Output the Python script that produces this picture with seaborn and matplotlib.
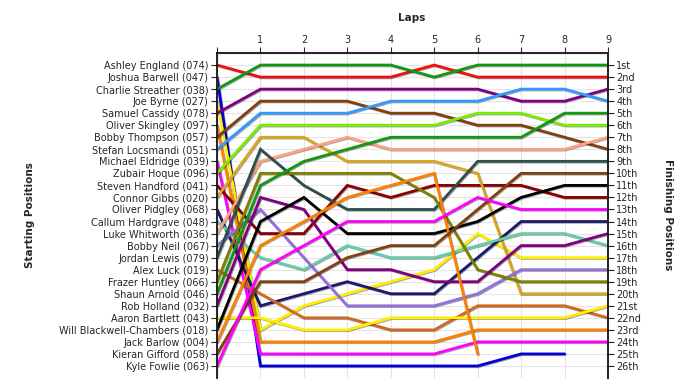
import matplotlib
matplotlib.use("Agg")
import matplotlib.pyplot as plt
import matplotlib.patheffects as pe
import seaborn as sns
import pandas as pd

# Drivers in starting order (grid position 1..26)
drivers = [
    "Ashley England (074)", "Joshua Barwell (047)", "Charlie Streather (038)",
    "Joe Byrne (027)", "Samuel Cassidy (078)", "Oliver Skingley (097)",
    "Bobby Thompson (057)", "Stefan Locsmandi (051)", "Michael Eldridge (039)",
    "Zubair Hoque (096)", "Steven Handford (041)", "Connor Gibbs (020)",
    "Oliver Pidgley (068)", "Callum Hardgrave (048)", "Luke Whitworth (036)",
    "Bobby Neil (067)", "Jordan Lewis (079)", "Alex Luck (019)",
    "Frazer Huntley (066)", "Shaun Arnold (046)", "Rob Holland (032)",
    "Aaron Bartlett (043)", "Will Blackwell-Chambers (018)", "Jack Barlow (004)",
    "Kieran Gifford (058)", "Kyle Fowlie (063)",
]

colors = [
    "#EE1111", "#0000DD", "#119911", "#FFEE00", "#800080", "#FF8000",
    "#804010", "#3399FF", "#FF00FF", "#77EE00", "#880000", "#DAA520",
    "#1A1A6E", "#66CCAA", "#FFA080", "#9370DB", "#2F4F4F", "#D2691E",
    "#808000", "#119911", "#800080", "#FFEE00", "#000000", "#FF8000",
    "#804010", "#FF00FF",
]

nan = float("nan")
# position of each driver (starting order) at the end of each lap
lap_0 = [1, 2, 3, 4, 5, 6, 7, 8, 9, 10, 11, 12, 13, 14, 15, 16, 17, 18, 19, 20, 21, 22, 23, 24, 25, 26]
lap_1 = [2, 26, 1, 23, 3, 24, 4, 5, 25, 6, 15, 7, 21, 17, 9, 13, 8, 20, 10, 11, 12, 22, 14, 16, 19, 18]
lap_2 = [2, 26, 1, 21, 3, 24, 4, 5, 25, 6, 15, 7, 20, 18, 8, 17, 11, 22, 10, 9, 13, 23, 12, 14, 19, 16]
lap_3 = [2, 26, 1, 20, 3, 24, 4, 5, 25, 6, 11, 9, 19, 16, 7, 21, 13, 22, 10, 8, 18, 23, 15, 12, 17, 14]
lap_4 = [2, 26, 1, 19, 3, 24, 5, 4, 25, 6, 12, 9, 20, 17, 8, 21, 13, 23, 10, 7, 18, 22, 15, 11, 16, 14]
lap_5 = [1, 26, 2, 18, 3, 24, 5, 4, 25, 6, 11, 9, 20, 17, 8, 21, 13, 23, 12, 7, 19, 22, 15, 10, 16, 14]
lap_6 = [2, 26, 1, 15, 3, 23, 6, 4, 24, 5, 11, 10, 17, 16, 8, 20, 9, 21, 18, 7, 19, 22, 14, 25, 13, 12]
lap_7 = [2, 25, 1, 17, 4, 23, 6, 3, 24, 5, 11, 20, 14, 15, 8, 18, 9, 21, 19, 7, 16, 22, 12, nan, 10, 13]
lap_8 = [2, 25, 1, 17, 4, 23, 7, 3, 24, 6, 12, 20, 14, 15, 8, 18, 9, 21, 19, 5, 16, 22, 11, nan, 10, 13]
lap_9 = [2, nan, 1, 17, 3, 23, 8, 4, 24, 6, 12, 20, 14, 16, 7, 18, 9, 22, 19, 5, 15, 21, 11, nan, 10, 13]

finish_labels = ["1st", "2nd", "3rd"] + [f"{i}th" for i in range(4, 21)] + \
                ["21st", "22nd", "23rd", "24th", "25th", "26th"]

laps = [lap_0, lap_1, lap_2, lap_3, lap_4, lap_5, lap_6, lap_7, lap_8, lap_9]
rows = []
for d_i, name in enumerate(drivers):
    for lap_i, lap in enumerate(laps):
        rows.append({"driver": name, "lap": lap_i, "pos": lap[d_i]})
df = pd.DataFrame(rows)

sns.set_style("white")
plt.rcParams["font.family"] = ["DejaVu Sans"]

fig = plt.figure(figsize=(7.0, 3.9), dpi=100)
fig.patch.set_facecolor("white")
ax = fig.add_axes([217 / 700, 1 - 378 / 390, (608 - 217) / 700, (378 - 53) / 390])
ax.set_facecolor("white")

palette = dict(zip(drivers, colors))
sns.lineplot(data=df, x="lap", y="pos", hue="driver", palette=palette,
             units="driver", estimator=None, sort=False, legend=False,
             linewidth=2.0, ax=ax)
for ln in ax.lines:
    ln.set_path_effects([pe.SimpleLineShadow(offset=(0.6, -0.6), alpha=0.35),
                         pe.Normal()])
    ln.set_solid_joinstyle("miter")

ax.set_xlim(0, 9)
ax.set_ylim(27, 0)
ax.xaxis.tick_top()
ax.set_xticks(range(0, 10))
ax.set_xticklabels([""] + [str(i) for i in range(1, 10)], fontsize=7)
ax.set_yticks(range(1, 27))
ax.set_yticklabels(drivers, fontsize=7)
ax.set_xlabel("")
ax.set_ylabel("")
ax.grid(True, color="#e4e4e4", linewidth=0.8)
ax.set_axisbelow(True)
ax.tick_params(axis="both", direction="out", length=4, width=0.8, pad=2)
for s in ["left", "top", "right"]:
    ax.spines[s].set_color("black")
    ax.spines[s].set_linewidth(1.2)
ax.spines["bottom"].set_visible(False)

ax2 = ax.twinx()
ax2.set_ylim(27, 0)
ax2.set_yticks(range(1, 27))
ax2.set_yticklabels(finish_labels, fontsize=7)
ax2.tick_params(axis="y", direction="out", length=4, width=0.8, pad=2)
ax2.spines["bottom"].set_visible(False)
ax2.spines["right"].set_linewidth(1.2)

fig.text(412 / 700, 1 - 18 / 390, "Laps", ha="center", va="center",
         fontsize=7.5, fontweight="bold")
fig.text(30 / 700, 1 - 215 / 390, "Starting Positions", ha="center", va="center",
         rotation=90, fontsize=7.5, fontweight="bold")
fig.text(668 / 700, 1 - 215 / 390, "Finishing Positions", ha="center", va="center",
         rotation=270, fontsize=7.5, fontweight="bold")

fig.savefig("out.png", dpi=100, facecolor="white")
